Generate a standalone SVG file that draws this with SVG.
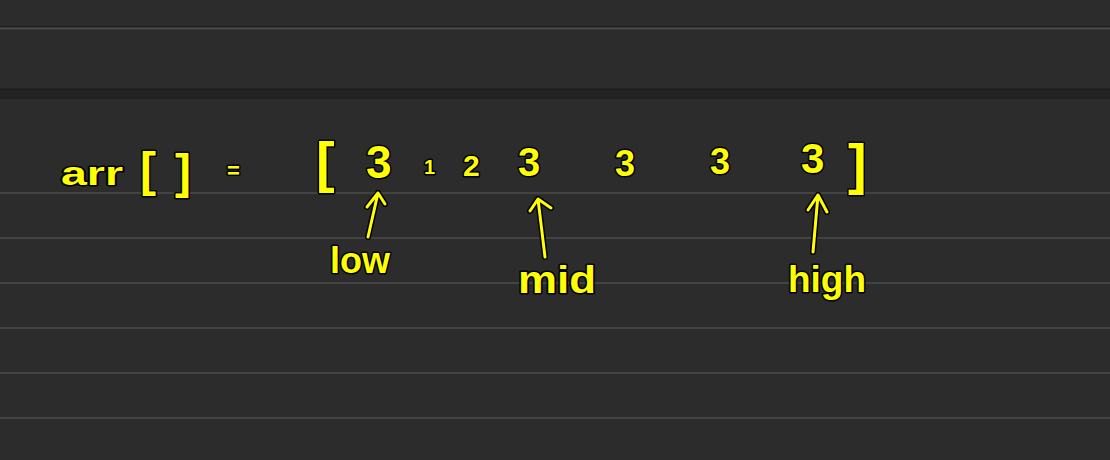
<svg xmlns="http://www.w3.org/2000/svg" width="1110" height="460" viewBox="0 0 1110 460">
<style>
.rule{stroke:#4b4b4b;stroke-width:1.5}
.ink{font-family:"Liberation Sans",Arial,sans-serif;font-weight:bold;fill:#ffff00;stroke:#000;stroke-width:3;paint-order:stroke;stroke-linejoin:round}
.shaftbg{fill:none;stroke:#000;stroke-width:6;stroke-linecap:round;stroke-linejoin:round}
.shaft{fill:none;stroke:#ffff00;stroke-width:3;stroke-linecap:round;stroke-linejoin:round}
</style>
<rect width="1110" height="460" fill="#2c2c2c"/>
<g id="paper">
<line x1="0" y1="26.5" x2="1110" y2="26.5" stroke="#1e1e1e" stroke-width="1"/>
<line x1="0" y1="28.5" x2="1110" y2="28.5" stroke="#484848" stroke-width="2"/>
<rect x="0" y="89" width="1110" height="10" fill="#222224"/>
<line x1="0" y1="89" x2="1110" y2="89" stroke="#1a1a1a" stroke-width="1"/>
<line class="rule" x1="0" y1="193" x2="1110" y2="193"/>
<line class="rule" x1="0" y1="238" x2="1110" y2="238"/>
<line class="rule" x1="0" y1="283" x2="1110" y2="283"/>
<line class="rule" x1="0" y1="328" x2="1110" y2="328"/>
<line class="rule" x1="0" y1="373" x2="1110" y2="373"/>
<line class="rule" x1="0" y1="418" x2="1110" y2="418"/>
</g>
<g id="array-label">
<text class="ink" x="61" y="185" font-size="34" textLength="62" lengthAdjust="spacingAndGlyphs">arr</text>
<text class="ink" x="140" y="186" font-size="48">[</text>
<text class="ink" x="175" y="188" font-size="48">]</text>
<text class="ink" x="227" y="178" font-size="22">=</text>
</g>
<g id="array-values">
<text class="ink" x="316" y="181" font-size="56">[</text>
<text class="ink" x="366" y="178" font-size="46">3</text>
<text class="ink" x="424" y="174" font-size="20">1</text>
<text class="ink" x="463" y="176" font-size="30">2</text>
<text class="ink" x="518" y="176" font-size="40">3</text>
<text class="ink" x="615" y="176" font-size="36">3</text>
<text class="ink" x="710" y="174" font-size="36">3</text>
<text class="ink" x="801" y="173" font-size="42">3</text>
<text class="ink" x="848" y="183" font-size="56">]</text>
</g>
<g id="connectors">
<path class="shaftbg" d="M368 237 L378 193 M367 207 L378 193 L385 204"/>
<path class="shaft" d="M368 237 L378 193 M367 207 L378 193 L385 204"/>
<path class="shaftbg" d="M545 257 L538 199 M530 211 L538 199 L551 208"/>
<path class="shaft" d="M545 257 L538 199 M530 211 L538 199 L551 208"/>
<path class="shaftbg" d="M813 252 L818 195 M808 210 L818 195 L827 212"/>
<path class="shaft" d="M813 252 L818 195 M808 210 L818 195 L827 212"/>
</g>
<g id="low">
<text class="ink" x="330" y="273" font-size="36" textLength="60" lengthAdjust="spacingAndGlyphs">low</text>
</g>
<g id="mid">
<text class="ink" x="518" y="293" font-size="38" textLength="78" lengthAdjust="spacingAndGlyphs">mid</text>
</g>
<g id="high">
<text class="ink" x="788" y="292" font-size="36" textLength="78" lengthAdjust="spacingAndGlyphs">high</text>
</g>
</svg>
